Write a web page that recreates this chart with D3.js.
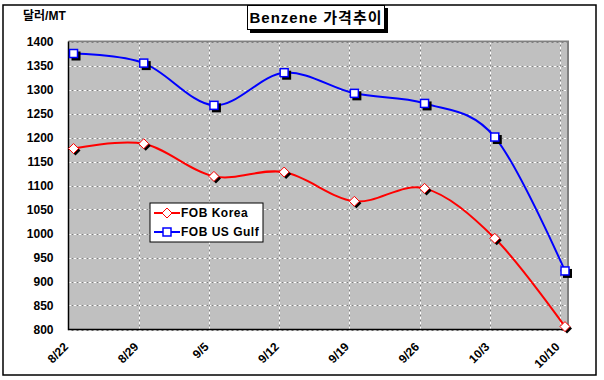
<!DOCTYPE html>
<html>
<head>
<meta charset="utf-8">
<script src="https://cdn.jsdelivr.net/npm/d3@7"></script>
<style>
body { margin:0; background:#fff; }
text { font-family: Arial, "Liberation Sans", "Noto Sans CJK KR", sans-serif; font-weight:bold; }
</style>
</head>
<body>
<div id="chart"></div>
<script>
// data
var dates = ["8/22","8/29","9/5","9/12","9/19","9/26","10/3","10/10"];
var korea = [1177,1187,1119,1128,1067,1094,990,806];
var usGulf = [1375,1355,1267,1335,1292,1271,1201,922];
var yTicks = [800,850,900,950,1000,1050,1100,1150,1200,1250,1300,1350,1400];

var width = 604, height = 380;
var plot = {left:68.5, right:568, top:41.5, bottom:329.5};

var parse = function(s){ var p = s.split("/"); return new Date(2008, +p[0]-1, +p[1]); };
var dayMs = 864e5;

var svg = d3.select("#chart").append("svg")
	.attr("width", width)
	.attr("height", height);

// outer frame
svg.append("rect")
	.attr("x",3).attr("y",5)
	.attr("width",593).attr("height",370)
	.attr("fill","#fff")
	.attr("stroke","#000")
	.attr("stroke-width",1.5);

var x = d3.scaleTime()
	.domain([parse("8/22"), new Date(+parse("10/10") + 0.8*dayMs)])
	.range([plot.left, plot.right]);

var y = d3.scaleLinear()
	.domain([800,1400])
	.range([plot.bottom, plot.top]);

// plot area
svg.append("rect")
	.attr("x",plot.left).attr("y",plot.top)
	.attr("width",plot.right-plot.left).attr("height",plot.bottom-plot.top)
	.attr("fill","#c0c0c0");

var grid = svg.append("g").attr("class","grid");

yTicks.forEach(function(t){
	grid.append("line")
		.attr("x1",plot.left).attr("x2",plot.right)
		.attr("y1",Math.round(y(t))+0.5).attr("y2",Math.round(y(t))+0.5)
		.attr("stroke","#808080");
	grid.append("line")
		.attr("x1",plot.left).attr("x2",plot.right)
		.attr("y1",Math.round(y(t))+0.5).attr("y2",Math.round(y(t))+0.5)
		.attr("stroke","#fff")
		.attr("stroke-dasharray","3,2");
});

dates.slice(1).forEach(function(d){
	var gx = Math.round(x(parse(d)))+0.5;
	grid.append("line")
		.attr("x1",gx).attr("x2",gx)
		.attr("y1",plot.top).attr("y2",plot.bottom)
		.attr("stroke","#808080");
	grid.append("line")
		.attr("x1",gx).attr("x2",gx)
		.attr("y1",plot.top).attr("y2",plot.bottom)
		.attr("stroke","#fff")
		.attr("stroke-dasharray","3,2");
});

// plot border
svg.append("path")
	.attr("d","M"+plot.left+","+plot.top+" L"+plot.right+","+plot.top+" L"+plot.right+","+plot.bottom)
	.attr("fill","none")
	.attr("stroke","#808080")
	.attr("stroke-width",2);
svg.append("path")
	.attr("d","M"+plot.left+","+plot.top+" L"+plot.left+","+plot.bottom+" L"+plot.right+","+plot.bottom)
	.attr("fill","none")
	.attr("stroke","#000")
	.attr("stroke-width",1.5);

// y axis labels
var yAxis = svg.append("g").attr("transform","translate("+plot.left+",0)")
	.call(d3.axisLeft(y).tickValues(yTicks).tickSize(0).tickPadding(15).tickFormat(d3.format("d")));
yAxis.select(".domain").remove();
yAxis.selectAll("text")
	.style("font-size","12px")
	.attr("fill","#000");

// x axis labels, rotated
var xAxis = svg.append("g").attr("transform","translate(0,"+plot.bottom+")")
	.call(d3.axisBottom(x).tickValues(dates.map(parse)).tickSize(0).tickFormat(function(d,i){ return dates[i]; }));
xAxis.select(".domain").remove();
xAxis.selectAll("text")
	.style("font-size","12px")
	.attr("fill","#000")
	.style("text-anchor","end")
	.attr("dy",null)
	.attr("y",0)
	.attr("transform","translate(0,18) rotate(-45)");

// series
var xp = function(d,i){ return x(new Date(+parse(dates[i]) + 0.5*dayMs)); };

var line = d3.line()
	.x(xp)
	.y(function(d){ return y(d); })
	.curve(d3.curveCardinal.tension(0));

svg.append("path").datum(korea)
	.attr("d",line).attr("fill","none")
	.attr("stroke","#ff0000").attr("stroke-width",2);
svg.append("path").datum(usGulf)
	.attr("d",line).attr("fill","none")
	.attr("stroke","#0000ff").attr("stroke-width",2);

var diamond = "M0,-5 L5,0 L0,5 L-5,0 Z";

function drawDiamonds(g, data){
	g.selectAll(".shadow").data(data).enter().append("path")
		.attr("d",diamond)
		.attr("transform",function(d,i){ return "translate("+(xp(d,i)+2)+","+(y(d)+2)+")"; })
		.attr("fill","#000");
	g.selectAll(".mark").data(data).enter().append("path")
		.attr("d",diamond)
		.attr("transform",function(d,i){ return "translate("+xp(d,i)+","+y(d)+")"; })
		.attr("fill","#fff")
		.attr("stroke","#ff0000")
		.attr("stroke-width",1);
}

function drawSquares(g, data){
	g.selectAll(".shadow").data(data).enter().append("rect")
		.attr("x",function(d,i){ return xp(d,i)-4+2; })
		.attr("y",function(d){ return y(d)-4+2; })
		.attr("width",9).attr("height",9)
		.attr("fill","#000");
	g.selectAll(".mark").data(data).enter().append("rect")
		.attr("x",function(d,i){ return xp(d,i)-4; })
		.attr("y",function(d){ return y(d)-4; })
		.attr("width",8).attr("height",8)
		.attr("fill","#fff")
		.attr("stroke","#0000ff")
		.attr("stroke-width",1.5);
}

drawDiamonds(svg.append("g"), korea);
drawSquares(svg.append("g"), usGulf);

// legend
var legend = svg.append("g").attr("transform","translate(150,203)");
legend.append("rect")
	.attr("x",0).attr("y",0)
	.attr("width",113).attr("height",39)
	.attr("fill","#fff")
	.attr("stroke","#000")
	.attr("stroke-width",1);

legend.append("line").attr("x1",4).attr("x2",30).attr("y1",10).attr("y2",10)
	.attr("stroke","#ff0000").attr("stroke-width",2);
legend.append("path").attr("d",diamond).attr("transform","translate(17,10)")
	.attr("fill","#fff").attr("stroke","#ff0000");
legend.append("text").attr("x",31).attr("y",14).text("FOB Korea")
	.style("font-size","12px").style("letter-spacing","0.5px");

legend.append("line").attr("x1",4).attr("x2",30).attr("y1",29).attr("y2",29)
	.attr("stroke","#0000ff").attr("stroke-width",2);
legend.append("rect").attr("x",13).attr("y",25).attr("width",8).attr("height",8)
	.attr("fill","#fff").attr("stroke","#0000ff").attr("stroke-width",1.5);
legend.append("text").attr("x",31).attr("y",33).text("FOB US Gulf")
	.style("font-size","12px").style("letter-spacing","0.5px");

// title box
svg.append("rect")
	.attr("x",250).attr("y",8)
	.attr("width",138).attr("height",25)
	.attr("fill","#000");
svg.append("rect")
	.attr("x",247.5).attr("y",5.5)
	.attr("width",137).attr("height",24)
	.attr("fill","#fff")
	.attr("stroke","#000");
svg.append("text")
	.attr("x",316).attr("y",23)
	.attr("text-anchor","middle")
	.style("font-size","15px")
	.style("letter-spacing","1px")
	.text("Benzene 가격추이");

// unit label
svg.append("text")
	.attr("x",23).attr("y",20)
	.style("font-size","12px")
	.text("달러/MT");
</script>
</body>
</html>
